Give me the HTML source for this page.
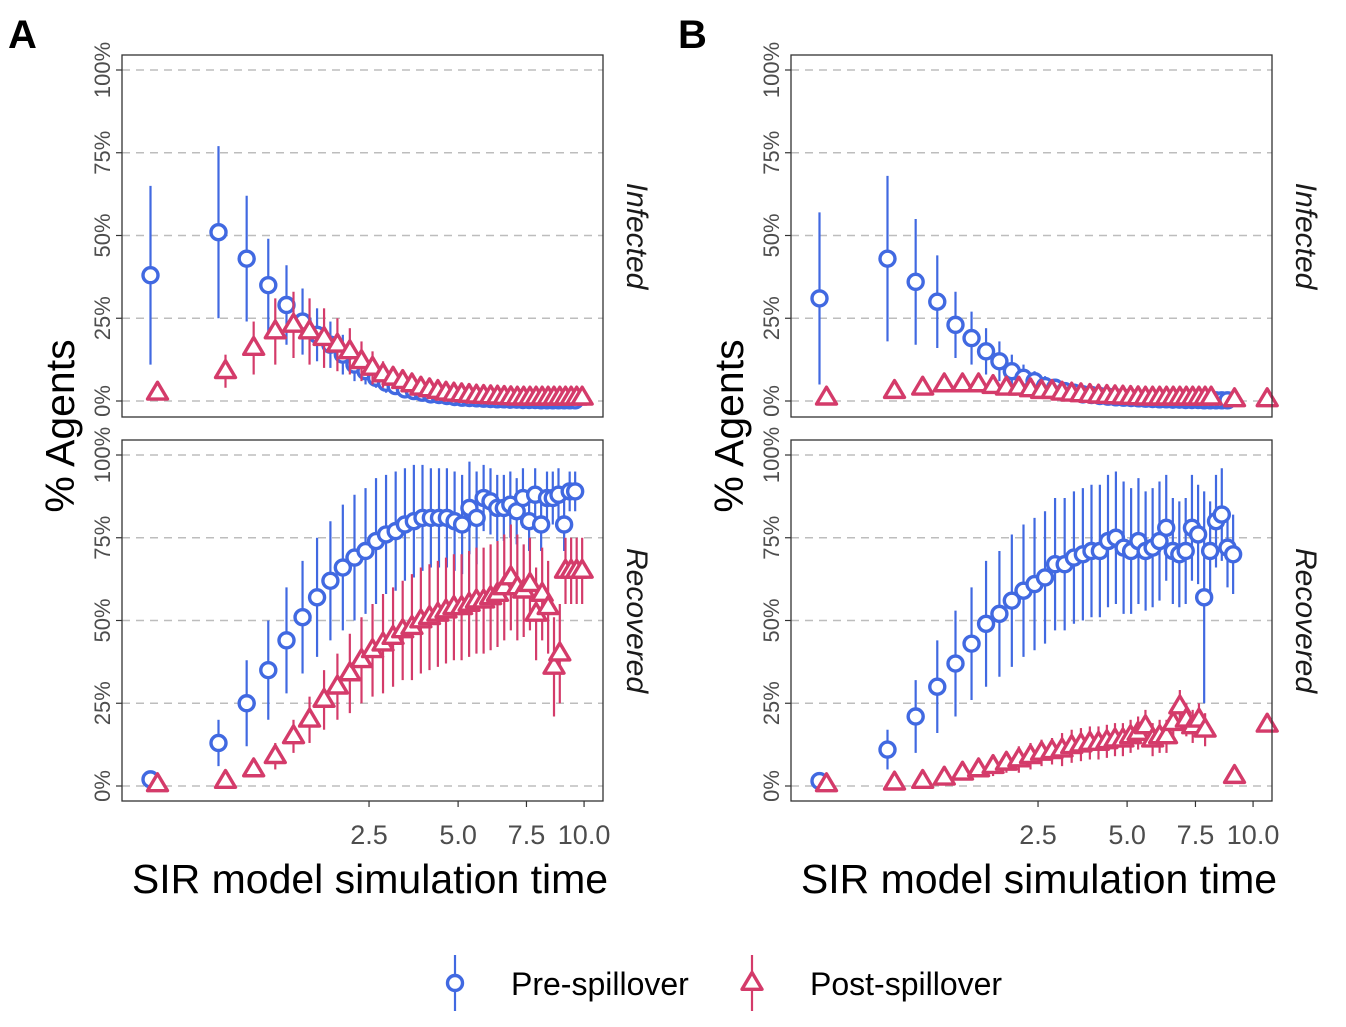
<!DOCTYPE html>
<html><head><meta charset="utf-8"><style>
body{margin:0;background:#fff;}
svg{display:block;font-family:"Liberation Sans",Arial,sans-serif;}
</style></head><body>
<svg id="c" width="1346" height="1027" xmlns="http://www.w3.org/2000/svg"></svg>
<script>
const times=[0,0.25,0.5,0.75,1,1.25,1.5,1.75,2,2.25,2.5,2.75,3,3.25,3.5,3.75,4,4.25,4.5,4.75,5,5.25,5.5,5.75,6,6.25,6.5,6.75,7,7.25,7.5,7.75,8,8.25,8.5,8.75,9,9.25,9.5,9.75,10,10.25,10.5];
const xTicks=[2.5,5,7.5,10];
const xTickLabels=["2.5","5.0","7.5","10.0"];
const yTicks=[0,25,50,75,100];
const yTickLabels=["0%","25%","50%","75%","100%"];
// Panel A
const aInfPre=[38,51,43,35,29,24,20,17,14,11,9,7,5.5,4.5,3.5,3,2.5,2,1.8,1.5,1.2,1,0.9,0.8,0.7,0.6,0.5,0.5,0.4,0.4,0.3,0.3,0.3,0.2,0.2,0.2,0.2,0.2,0.2,0.2];
const aInfPreErr=[27,26,19,14,12,10,8,7,6,5,4,3,3,2,2,2,1.5,1.5,1,1,1,1,1,1,1,1,1,1,1,1,1,1,1,1,1,1,1,1,1,1];
const aInfPost=[2.5,9,16,21,23,21,19,17,15,12,10,8,7,6,5,4,3.5,3,2.5,2.2,2,1.8,1.6,1.5,1.4,1.3,1.2,1.1,1,1,1,1,1,1,1,1,1,1,1,1];
const aInfPostErr=[0,5,8,10,10,10,9,8,7,6,5,4,3,3,2,2,2,2,1.5,1.5,1.5,1,1,1,1,1,1,1,1,1,1,1,1,1,1,1,1,1,1,1];
const aRecPre=[2,13,25,35,44,51,57,62,66,69,71,74,76,77,79,80,81,81,81,81,80,79,84,81,87,86,84,84,85,83,87,80,88,79,87,87,88,79,89,89];
const aRecPreErr=[0,7,13,15,16,17,18,18,19,19,19,19,18,18,17,17,16,15,15,15,15,15,14,14,10,10,10,10,10,10,9,9,8,8,8,8,8,8,6,6];
const aRecPost=[0.5,1.5,5,9,15,20,26,30,34,38,41,43,45,47,48,50,51,52,53,54,54,55,56,56,57,58,60,63,60,59,61,52,58,54,36,40,65,65,65,65];
const aRecPostErr=[0,1,2,4,5,7,9,10,12,13,14,15,15,15,16,16,16,16,16,16,16,16,16,16,16,16,16,16,16,14,14,14,14,14,15,15,10,10,10,10];
// Panel B
const bInfPre=[31,43,36,30,23,19,15,12,9,7,6,4.5,4,3,2.5,2,1.8,1.5,1.3,1.1,1,0.9,0.8,0.7,0.6,0.5,0.5,0.4,0.4,0.3,0.3,0.3,0.2,0.2,0.2,0.2,0.2];
const bInfPreErr=[26,25,19,14,10,8,7,6,5,4,3,3,2,2,2,1.5,1.5,1,1,1,1,1,1,1,1,1,1,1,1,1,1,1,1,1,1,1,1];
const bInfPost=[1,3,4,5,5,5,4.5,4,4,3.5,3,3,2.5,2.2,2,1.8,1.6,1.5,1.4,1.3,1.2,1.1,1,1,1,1,1,1,1,1,1,1,1,null,null,null,0.5,null,null,null,null,null,0.5];
const bInfPostErr=[0,1,2,2,2,2,2,2,2,2,1.5,1.5,1.5,1,1,1,1,1,1,1,1,1,1,1,1,1,1,1,1,1,1,1,1,0,0,0,0.5,0,0,0,0,0,0.5];
const bRecPre=[1.5,11,21,30,37,43,49,52,56,59,61,63,67,67,69,70,71,71,74,75,72,71,74,71,72,74,78,71,70,71,78,76,57,71,80,82,72,70];
const bRecPreErr=[0,6,11,14,16,17,19,19,20,20,20,20,20,20,20,20,20,20,20,20,20,19,19,18,18,18,16,16,16,16,16,15,32,15,14,14,12,12];
const bRecPost=[0.5,1,1.5,2.5,4,5,6,7,8,9,10,10.5,11,12,12.5,13,13,13.5,14,14,15,16,18,14,15,15,19,24,20,18,20,17,null,null,null,null,3,null,null,null,null,null,18.5];
const bRecPostErr=[0,0.5,1,1.5,2,2,3,3,4,4,4,4,5,5,5,5,5,5,5,5,5,5,5,5,5,5,5,5,5,5,5,5,0,0,0,0,2,0,0,0,0,0,1];
const BLUE="#4169e1", RED="#d43b6a";
const NS="http://www.w3.org/2000/svg";
const svg=document.getElementById('c');
function mk(tag,attrs,parent){const e=document.createElementNS(NS,tag);for(const k in attrs)e.setAttribute(k,attrs[k]);(parent||svg).appendChild(e);return e;}
function txt(s,attrs,parent){const e=mk('text',attrs,parent);e.textContent=s;return e;}

const panels=[
 {key:'a',left:122,letter:'A',lx:8,
  facets:[{name:'infected',label:'Infected',top:55,bot:417,y0:401,y100:70,pre:aInfPre,preE:aInfPreErr,post:aInfPost,postE:aInfPostErr},
          {name:'recovered',label:'Recovered',top:440,bot:801,y0:786,y100:455,pre:aRecPre,preE:aRecPreErr,post:aRecPost,postE:aRecPostErr}]},
 {key:'b',left:791,letter:'B',lx:678,
  facets:[{name:'infected',label:'Infected',top:55,bot:417,y0:401,y100:70,pre:bInfPre,preE:bInfPreErr,post:bInfPost,postE:bInfPostErr},
          {name:'recovered',label:'Recovered',top:440,bot:801,y0:786,y100:455,pre:bRecPre,preE:bRecPreErr,post:bRecPost,postE:bRecPostErr}]}
];
const W=481;
function tri(g,cx,cy,col){
  const r=10.5;
  return mk('polygon',{points:`${cx},${cy-r} ${cx+r*0.95},${cy+r*0.6} ${cx-r*0.95},${cy+r*0.6}`,fill:'#fff',stroke:col,'stroke-width':3.4,'stroke-linejoin':'round'},g);
}
panels.forEach(P=>{
  const xs=t=>P.left+32+136*Math.sqrt(t);
  const pg=mk('g',{},svg);
  
  
  const L=txt(P.letter,{x:P.lx,y:48,'font-size':40,'font-weight':'bold',fill:'#000'},pg);
  
  
  const yt=txt('% Agents',{transform:`translate(${P.left-48},${426}) rotate(-90)`,'text-anchor':'middle','font-size':41,fill:'#000'},pg);
  
  
  const xt=txt('SIR model simulation time',{x:P.left+248,y:893,'text-anchor':'middle','font-size':41,fill:'#000'},pg);
  
  
  xTicks.forEach((t,i)=>{
    const x=xs(t);
    mk('line',{x1:x,x2:x,y1:801,y2:807,stroke:'#333','stroke-width':1.2},pg);
    const l=txt(xTickLabels[i],{x:x,y:844,'text-anchor':'middle','font-size':27,fill:'#4d4d4d'},pg);
    
    
  });
  P.facets.forEach(F=>{
    const ys=v=>F.y0+(F.y100-F.y0)*v/100;
    const g=mk('g',{},pg);
    
    
    yTicks.forEach((v,i)=>{
      const y=ys(v);
      mk('line',{x1:P.left,x2:P.left+W,y1:y,y2:y,stroke:'#bdbdbd','stroke-width':1.6,'stroke-dasharray':'8,6'},g);
      mk('line',{x1:P.left-6,x2:P.left,y1:y,y2:y,stroke:'#333','stroke-width':1.2},g);
      const l=txt(yTickLabels[i],{transform:`translate(${P.left-12},${y}) rotate(-90)`,'text-anchor':'middle','font-size':22,fill:'#4d4d4d'},g);
      
      
    });
    const s=txt(F.label,{transform:`translate(${P.left+W+24},${(F.top+F.bot)/2}) rotate(90)`,'text-anchor':'middle','font-size':30,'font-style':'italic',fill:'#1a1a1a'},g);
    
    
    [['pre',F.pre,F.preE,BLUE,-3.5],['post',F.post,F.postE,RED,3.5]].forEach(([nm,vals,errs,col,dx])=>{
      const sg=mk('g',{},g);
      
      
      for(let i=0;i<vals.length;i++){
        if(vals[i]===null||!errs[i]) continue;
        const x=xs(times[i])+dx;
        const lo=Math.max(0,vals[i]-errs[i]), hi=Math.min(100,vals[i]+errs[i]);
        const el=mk('line',{x1:x,x2:x,y1:ys(lo),y2:ys(hi),stroke:col,'stroke-width':2.2},sg);
        
        
      }
      for(let i=0;i<vals.length;i++){
        if(vals[i]===null) continue;
        const x=xs(times[i])+dx, y=ys(vals[i]);
        let m;
        if(nm==='pre') m=mk('circle',{cx:x,cy:y,r:7.5,fill:'#fff',stroke:col,'stroke-width':3.4},sg);
        else m=tri(sg,x,y,col);
        
        
      }
    });
    const fr=mk('rect',{x:P.left,y:F.top,width:W,height:F.bot-F.top,fill:'none',stroke:'#333','stroke-width':1.3},g);
    
    
  });
});
const lg=mk('g',{},svg);


const e1=mk('g',{},lg);


mk('line',{x1:455,x2:455,y1:955,y2:1011,stroke:BLUE,'stroke-width':2.2},e1);
mk('circle',{cx:455,cy:983,r:7.5,fill:'#fff',stroke:BLUE,'stroke-width':3.4},e1);
txt('Pre-spillover',{x:511,y:995,'font-size':32,fill:'#000'},e1);
const e2=mk('g',{},lg);


mk('line',{x1:752,x2:752,y1:955,y2:1011,stroke:RED,'stroke-width':2.2},e2);
tri(e2,752,983,RED);
txt('Post-spillover',{x:810,y:995,'font-size':32,fill:'#000'},e2);
</script>
</body></html>
